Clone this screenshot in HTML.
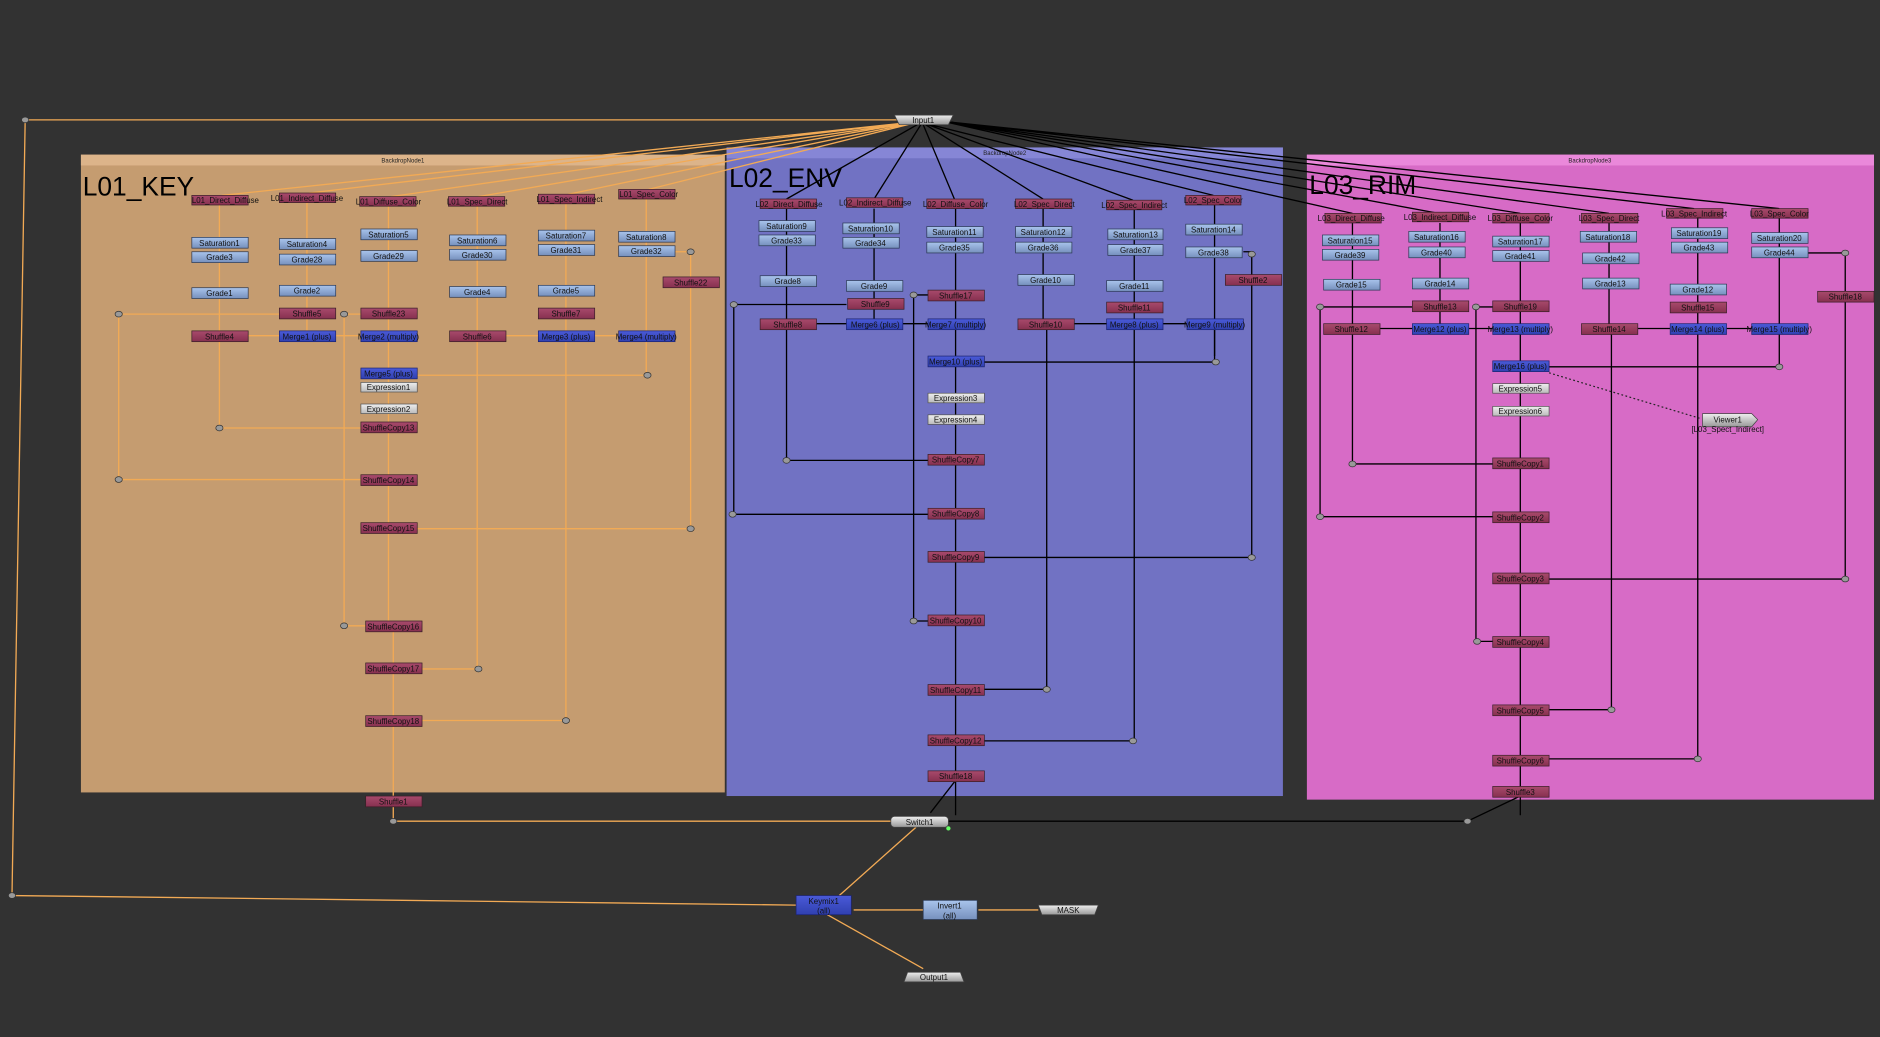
<!DOCTYPE html>
<html><head><meta charset="utf-8"><style>
html,body{margin:0;padding:0;background:#323232;overflow:hidden}
svg{display:block}
text{font-family:"Liberation Sans",sans-serif}
.n text{font-size:6.6px;fill:#111;text-anchor:middle}
.s rect{fill:url(#gs);stroke:#3a1f28;stroke-width:.6}
.g rect{fill:url(#gg);stroke:#2c3a55;stroke-width:.6}
.m rect{fill:url(#gm);stroke:#1c2470;stroke-width:.6}
.e rect{fill:url(#ge);stroke:#555;stroke-width:.6}
.o{stroke:#f2aa55;stroke-width:1.1;fill:none}
.k{stroke:#000;stroke-width:1.1;fill:none}
.d{fill:#999;stroke:#333;stroke-width:.6}
.big{font-size:22px;fill:#000}
.bk{font-size:5px;fill:#222;text-anchor:middle}
</style></head><body>
<svg width="1880" height="1037" viewBox="0 0 1568 865" preserveAspectRatio="none" xmlns="http://www.w3.org/2000/svg">
<defs>
<linearGradient id="gs" x1="0" y1="0" x2="0" y2="1"><stop offset="0" stop-color="#a84a6c"/><stop offset="1" stop-color="#86304f"/></linearGradient>
<linearGradient id="gg" x1="0" y1="0" x2="0" y2="1"><stop offset="0" stop-color="#a9c4ec"/><stop offset="1" stop-color="#7690bd"/></linearGradient>
<linearGradient id="gm" x1="0" y1="0" x2="0" y2="1"><stop offset="0" stop-color="#4a5ad8"/><stop offset="1" stop-color="#3040b0"/></linearGradient>
<linearGradient id="ge" x1="0" y1="0" x2="0" y2="1"><stop offset="0" stop-color="#eee"/><stop offset="1" stop-color="#bbb"/></linearGradient>
<linearGradient id="gi" x1="0" y1="0" x2="0" y2="1"><stop offset="0" stop-color="#eee"/><stop offset="1" stop-color="#999"/></linearGradient>
</defs>
<rect width="1568" height="865" fill="#323232"/>
<rect x="67.5" y="129" width="537" height="532" fill="#c59c70"/>
<rect x="67.5" y="129" width="537" height="9" fill="#dcb48a"/>
<text class="bk" x="336" y="135.5">BackdropNode1</text>
<rect x="606" y="123" width="464" height="541" fill="#7172c3"/>
<rect x="606" y="123" width="464" height="9" fill="#8686d6"/>
<text class="bk" x="838" y="129.5">BackdropNode2</text>
<rect x="1090" y="129" width="473" height="538" fill="#d76bc6"/>
<rect x="1090" y="129" width="473" height="9" fill="#ea88da"/>
<text class="bk" x="1326" y="135.5">BackdropNode3</text>
<text class="big" x="69" y="163">L01_KEY</text>
<text class="big" x="608" y="156">L02_ENV</text>
<text class="big" x="1092" y="162">L03_RIM</text>

<g class="o">
<path d="M748 100H21L10 747"/><path d="M10 747L664 755"/>
<path d="M760 102L185 163M760 102L258 161M762 102L326 164M762 102L399 164M764 102L474 162M765 102L541 158"/>
</g>
<g class="k">
<path d="M765 104L656 166M768 104L729 166M770 104L796 166M772 104L870 166M774 104L945 167M776 104L1012 163"/>
<path d="M790 102L1128 178M790 102L1200 178M791 102L1268 178M792 102L1342 178M793 102L1413 174M794 102L1484 174"/>
</g>

<g class="o">
<path d="M183 171V276M183 284V357M256 169V276M324 172V518M328 518V664M398 172V276M398 284V558M472 170V276M472 284V601M539 166V313M576 210V441M563 210H576M576 210V231"/>
<path d="M99 262V400M233 262H99M287 262V522M301 262H287M207 280H233M280 280H301M422 280H449M496 280H516"/>
<path d="M540 313H348M183 357H301M99 400H301M576 441H348M287 522H305M399 558H352M472 601H352M328 672V685M328 685H743"/>
</g>
<g class="k">
<path d="M656 174V266M656 274V384M729 174V266M797 174V297M797 305V680M870 174V266M873 274V575M946 175V266M946 274V618M1013 171V297M1044 212V465M1037 210H1044M1044 229V237"/>
<path d="M612 254V429M706 254H612M762 246V518M774 246H762M681 270H706M753 270H774M896 270H923M970 270H990M1014 302H821M1013 274V302"/>
<path d="M656 384H774M611 429H774M1044 465H821M762 518H774M873 575H821M945 618H821M797 651L776 678"/>
</g>
<g class="k">
<path d="M1128 186V270M1128 278V387M1201 186V270M1268 186V680M1342 186V270M1344 278V592M1416 182V270M1416 278V633M1484 182V306M1539 211V483M1508 211H1539M1539 243V251"/>
<path d="M1101 256V431M1178 256H1101M1231 256V535M1245 256H1231M1151 274H1178M1225 274H1245M1366 274H1393M1440 274H1461M1484 306H1292"/>
<path d="M1128 387H1245M1101 431H1245M1539 483H1292M1232 535H1245M1344 592H1292M1416 633H1292M1268 664L1224 685M1224 685H791"/>
</g>
<path d="M1292 311L1418 349" stroke="#222" stroke-width="1" stroke-dasharray="1.5,2" fill="none"/>
<g class="o"><path d="M764 690L700 747M690 763L770 808M770 759H712M866 759H816"/></g>

<g class="d">
<ellipse cx="21" cy="100" rx="3" ry="2.4"/><ellipse cx="10" cy="747" rx="3" ry="2.4"/>
<ellipse cx="99" cy="262" rx="3" ry="2.4"/><ellipse cx="287" cy="262" rx="3" ry="2.4"/><ellipse cx="576" cy="210" rx="3" ry="2.4"/><ellipse cx="540" cy="313" rx="3" ry="2.4"/><ellipse cx="183" cy="357" rx="3" ry="2.4"/><ellipse cx="99" cy="400" rx="3" ry="2.4"/><ellipse cx="576" cy="441" rx="3" ry="2.4"/><ellipse cx="287" cy="522" rx="3" ry="2.4"/><ellipse cx="399" cy="558" rx="3" ry="2.4"/><ellipse cx="472" cy="601" rx="3" ry="2.4"/><ellipse cx="328" cy="685" rx="3" ry="2.4"/>
<ellipse cx="612" cy="254" rx="3" ry="2.4"/><ellipse cx="762" cy="246" rx="3" ry="2.4"/><ellipse cx="1044" cy="212" rx="3" ry="2.4"/><ellipse cx="1014" cy="302" rx="3" ry="2.4"/><ellipse cx="656" cy="384" rx="3" ry="2.4"/><ellipse cx="611" cy="429" rx="3" ry="2.4"/><ellipse cx="1044" cy="465" rx="3" ry="2.4"/><ellipse cx="762" cy="518" rx="3" ry="2.4"/><ellipse cx="873" cy="575" rx="3" ry="2.4"/><ellipse cx="945" cy="618" rx="3" ry="2.4"/>
<ellipse cx="1101" cy="256" rx="3" ry="2.4"/><ellipse cx="1231" cy="256" rx="3" ry="2.4"/><ellipse cx="1539" cy="211" rx="3" ry="2.4"/><ellipse cx="1484" cy="306" rx="3" ry="2.4"/><ellipse cx="1128" cy="387" rx="3" ry="2.4"/><ellipse cx="1101" cy="431" rx="3" ry="2.4"/><ellipse cx="1539" cy="483" rx="3" ry="2.4"/><ellipse cx="1232" cy="535" rx="3" ry="2.4"/><ellipse cx="1344" cy="592" rx="3" ry="2.4"/><ellipse cx="1416" cy="633" rx="3" ry="2.4"/><ellipse cx="1224" cy="685" rx="3" ry="2.4"/>
</g>

<g class="n s">
<rect x="160" y="163" width="47" height="8"/><text x="188" y="169.5">L01_Direct_Diffuse</text>
<rect x="233" y="161" width="47" height="8"/><text x="256" y="167.5">L01_Indirect_Diffuse</text>
<rect x="300" y="164" width="47" height="8"/><text x="324" y="170.5">L01_Diffuse_Color</text>
<rect x="374" y="164" width="47" height="8"/><text x="398" y="170.5">L01_Spec_Direct</text>
<rect x="449" y="162" width="47" height="8"/><text x="475" y="168.5">L01_Spec_Indirect</text>
<rect x="516" y="158" width="47" height="8"/><text x="541" y="164.5">L01_Spec_Color</text>
<rect x="233" y="257" width="47" height="9"/><text x="256" y="264">Shuffle5</text>
<rect x="301" y="257" width="47" height="9"/><text x="324" y="264">Shuffle23</text>
<rect x="449" y="257" width="47" height="9"/><text x="472" y="264">Shuffle7</text>
<rect x="553" y="231" width="47" height="9"/><text x="576" y="238">Shuffle22</text>
<rect x="160" y="276" width="47" height="9"/><text x="183" y="283">Shuffle4</text>
<rect x="375" y="276" width="47" height="9"/><text x="398" y="283">Shuffle6</text>
<rect x="301" y="352" width="47" height="9"/><text x="324" y="359">ShuffleCopy13</text>
<rect x="301" y="396" width="47" height="9"/><text x="324" y="403">ShuffleCopy14</text>
<rect x="301" y="436" width="47" height="9"/><text x="324" y="443">ShuffleCopy15</text>
<rect x="305" y="518" width="47" height="9"/><text x="328" y="525">ShuffleCopy16</text>
<rect x="305" y="553" width="47" height="9"/><text x="328" y="560">ShuffleCopy17</text>
<rect x="305" y="597" width="47" height="9"/><text x="328" y="604">ShuffleCopy18</text>
<rect x="305" y="664" width="47" height="9"/><text x="328" y="671">Shuffle1</text>
</g>
<g class="n g">
<rect x="160" y="198" width="47" height="9"/><text x="183" y="205">Saturation1</text>
<rect x="233" y="199" width="47" height="9"/><text x="256" y="206">Saturation4</text>
<rect x="301" y="191" width="47" height="9"/><text x="324" y="198">Saturation5</text>
<rect x="375" y="196" width="47" height="9"/><text x="398" y="203">Saturation6</text>
<rect x="449" y="192" width="47" height="9"/><text x="472" y="199">Saturation7</text>
<rect x="516" y="193" width="47" height="9"/><text x="539" y="200">Saturation8</text>
<rect x="160" y="210" width="47" height="9"/><text x="183" y="217">Grade3</text>
<rect x="233" y="212" width="47" height="9"/><text x="256" y="219">Grade28</text>
<rect x="301" y="209" width="47" height="9"/><text x="324" y="216">Grade29</text>
<rect x="375" y="208" width="47" height="9"/><text x="398" y="215">Grade30</text>
<rect x="449" y="204" width="47" height="9"/><text x="472" y="211">Grade31</text>
<rect x="516" y="205" width="47" height="9"/><text x="539" y="212">Grade32</text>
<rect x="160" y="240" width="47" height="9"/><text x="183" y="247">Grade1</text>
<rect x="233" y="238" width="47" height="9"/><text x="256" y="245">Grade2</text>
<rect x="375" y="239" width="47" height="9"/><text x="398" y="246">Grade4</text>
<rect x="449" y="238" width="47" height="9"/><text x="472" y="245">Grade5</text>
</g>
<g class="n m">
<rect x="233" y="276" width="47" height="9"/><text x="256" y="283">Merge1 (plus)</text>
<rect x="301" y="276" width="47" height="9"/><text x="324" y="283">Merge2 (multiply)</text>
<rect x="449" y="276" width="47" height="9"/><text x="472" y="283">Merge3 (plus)</text>
<rect x="516" y="276" width="47" height="9"/><text x="539" y="283">Merge4 (multiply)</text>
<rect x="301" y="307" width="47" height="9"/><text x="324" y="314">Merge5 (plus)</text>
</g>
<g class="n e">
<rect x="301" y="319" width="47" height="8"/><text x="324" y="325.5">Expression1</text>
<rect x="301" y="337" width="47" height="8"/><text x="324" y="343.5">Expression2</text>
</g>

<g class="n s">
<rect x="634" y="166" width="47" height="8"/><text x="658" y="172.5">L02_Direct_Diffuse</text>
<rect x="706" y="165" width="47" height="8"/><text x="730" y="171.5">L02_Indirect_Diffuse</text>
<rect x="773" y="166" width="47" height="8"/><text x="797" y="172.5">L02_Diffuse_Color</text>
<rect x="847" y="166" width="47" height="8"/><text x="871" y="172.5">L02_Spec_Direct</text>
<rect x="923" y="167" width="46" height="8"/><text x="946" y="173.5">L02_Spec_Indirect</text>
<rect x="989" y="163" width="46" height="8"/><text x="1012" y="169.5">L02_Spec_Color</text>
<rect x="774" y="242" width="47" height="9"/><text x="797" y="249">Shuffle17</text>
<rect x="707" y="249" width="47" height="9"/><text x="730" y="256">Shuffle9</text>
<rect x="923" y="252" width="47" height="9"/><text x="946" y="259">Shuffle11</text>
<rect x="1022" y="229" width="47" height="9"/><text x="1045" y="236">Shuffle2</text>
<rect x="634" y="266" width="47" height="9"/><text x="657" y="273">Shuffle8</text>
<rect x="849" y="266" width="47" height="9"/><text x="872" y="273">Shuffle10</text>
<rect x="774" y="379" width="47" height="9"/><text x="797" y="386">ShuffleCopy7</text>
<rect x="774" y="424" width="47" height="9"/><text x="797" y="431">ShuffleCopy8</text>
<rect x="774" y="460" width="47" height="9"/><text x="797" y="467">ShuffleCopy9</text>
<rect x="774" y="513" width="47" height="9"/><text x="797" y="520">ShuffleCopy10</text>
<rect x="774" y="571" width="47" height="9"/><text x="797" y="578">ShuffleCopy11</text>
<rect x="774" y="613" width="47" height="9"/><text x="797" y="620">ShuffleCopy12</text>
<rect x="774" y="643" width="47" height="9"/><text x="797" y="650">Shuffle18</text>
</g>
<g class="n g">
<rect x="633" y="184" width="47" height="9"/><text x="656" y="191">Saturation9</text>
<rect x="703" y="186" width="47" height="9"/><text x="726" y="193">Saturation10</text>
<rect x="773" y="189" width="47" height="9"/><text x="796" y="196">Saturation11</text>
<rect x="847" y="189" width="47" height="9"/><text x="870" y="196">Saturation12</text>
<rect x="924" y="191" width="46" height="9"/><text x="947" y="198">Saturation13</text>
<rect x="989" y="187" width="47" height="9"/><text x="1012" y="194">Saturation14</text>
<rect x="633" y="196" width="47" height="9"/><text x="656" y="203">Grade33</text>
<rect x="703" y="198" width="47" height="9"/><text x="726" y="205">Grade34</text>
<rect x="773" y="202" width="47" height="9"/><text x="796" y="209">Grade35</text>
<rect x="847" y="202" width="47" height="9"/><text x="870" y="209">Grade36</text>
<rect x="924" y="204" width="46" height="9"/><text x="947" y="211">Grade37</text>
<rect x="989" y="206" width="47" height="9"/><text x="1012" y="213">Grade38</text>
<rect x="634" y="230" width="47" height="9"/><text x="657" y="237">Grade8</text>
<rect x="706" y="234" width="47" height="9"/><text x="729" y="241">Grade9</text>
<rect x="849" y="229" width="47" height="9"/><text x="872" y="236">Grade10</text>
<rect x="923" y="234" width="47" height="9"/><text x="946" y="241">Grade11</text>
</g>
<g class="n m">
<rect x="706" y="266" width="47" height="9"/><text x="730" y="273">Merge6 (plus)</text>
<rect x="774" y="266" width="47" height="9"/><text x="797" y="273">Merge7 (multiply)</text>
<rect x="923" y="266" width="47" height="9"/><text x="946" y="273">Merge8 (plus)</text>
<rect x="990" y="266" width="47" height="9"/><text x="1013" y="273">Merge9 (multiply)</text>
<rect x="774" y="297" width="47" height="9"/><text x="797" y="304">Merge10 (plus)</text>
</g>
<g class="n e">
<rect x="774" y="328" width="47" height="8"/><text x="797" y="334.5">Expression3</text>
<rect x="774" y="346" width="47" height="8"/><text x="797" y="352.5">Expression4</text>
</g>

<g class="n s">
<rect x="1105" y="178" width="47" height="8"/><text x="1127" y="184.5">L03_Direct_Diffuse</text>
<rect x="1178" y="177" width="47" height="8"/><text x="1201" y="183.5">L03_Indirect_Diffuse</text>
<rect x="1245" y="178" width="47" height="8"/><text x="1268" y="184.5">L03_Diffuse_Color</text>
<rect x="1319" y="178" width="47" height="8"/><text x="1342" y="184.5">L03_Spec_Direct</text>
<rect x="1390" y="174" width="47" height="8"/><text x="1413" y="180.5">L03_Spec_Indirect</text>
<rect x="1461" y="174" width="47" height="8"/><text x="1484" y="180.5">L03_Spec_Color</text>
<rect x="1245" y="251" width="47" height="9"/><text x="1268" y="258">Shuffle19</text>
<rect x="1178" y="251" width="47" height="9"/><text x="1201" y="258">Shuffle13</text>
<rect x="1393" y="252" width="47" height="9"/><text x="1416" y="259">Shuffle15</text>
<rect x="1516" y="243" width="47" height="9"/><text x="1539" y="250">Shuffle18</text>
<rect x="1104" y="270" width="47" height="9"/><text x="1127" y="277">Shuffle12</text>
<rect x="1319" y="270" width="47" height="9"/><text x="1342" y="277">Shuffle14</text>
<rect x="1245" y="382" width="47" height="9"/><text x="1268" y="389">ShuffleCopy1</text>
<rect x="1245" y="427" width="47" height="9"/><text x="1268" y="434">ShuffleCopy2</text>
<rect x="1245" y="478" width="47" height="9"/><text x="1268" y="485">ShuffleCopy3</text>
<rect x="1245" y="531" width="47" height="9"/><text x="1268" y="538">ShuffleCopy4</text>
<rect x="1245" y="588" width="47" height="9"/><text x="1268" y="595">ShuffleCopy5</text>
<rect x="1245" y="630" width="47" height="9"/><text x="1268" y="637">ShuffleCopy6</text>
<rect x="1245" y="656" width="47" height="9"/><text x="1268" y="663">Shuffle3</text>
</g>
<g class="n g">
<rect x="1103" y="196" width="47" height="9"/><text x="1126" y="203">Saturation15</text>
<rect x="1175" y="193" width="47" height="9"/><text x="1198" y="200">Saturation16</text>
<rect x="1245" y="197" width="47" height="9"/><text x="1268" y="204">Saturation17</text>
<rect x="1318" y="193" width="47" height="9"/><text x="1341" y="200">Saturation18</text>
<rect x="1394" y="190" width="47" height="9"/><text x="1417" y="197">Saturation19</text>
<rect x="1461" y="194" width="47" height="9"/><text x="1484" y="201">Saturation20</text>
<rect x="1103" y="208" width="47" height="9"/><text x="1126" y="215">Grade39</text>
<rect x="1175" y="206" width="47" height="9"/><text x="1198" y="213">Grade40</text>
<rect x="1245" y="209" width="47" height="9"/><text x="1268" y="216">Grade41</text>
<rect x="1320" y="211" width="47" height="9"/><text x="1343" y="218">Grade42</text>
<rect x="1394" y="202" width="47" height="9"/><text x="1417" y="209">Grade43</text>
<rect x="1461" y="206" width="47" height="9"/><text x="1484" y="213">Grade44</text>
<rect x="1104" y="233" width="47" height="9"/><text x="1127" y="240">Grade15</text>
<rect x="1178" y="232" width="47" height="9"/><text x="1201" y="239">Grade14</text>
<rect x="1320" y="232" width="47" height="9"/><text x="1343" y="239">Grade13</text>
<rect x="1393" y="237" width="47" height="9"/><text x="1416" y="244">Grade12</text>
</g>
<g class="n m">
<rect x="1178" y="270" width="47" height="9"/><text x="1201" y="277">Merge12 (plus)</text>
<rect x="1245" y="270" width="47" height="9"/><text x="1268" y="277">Merge13 (multiply)</text>
<rect x="1393" y="270" width="47" height="9"/><text x="1416" y="277">Merge14 (plus)</text>
<rect x="1461" y="270" width="47" height="9"/><text x="1484" y="277">Merge15 (multiply)</text>
<rect x="1245" y="301" width="47" height="9"/><text x="1268" y="308">Merge16 (plus)</text>
</g>
<g class="n e">
<rect x="1245" y="320" width="47" height="8"/><text x="1268" y="326.5">Expression5</text>
<rect x="1245" y="339" width="47" height="8"/><text x="1268" y="345.5">Expression6</text>
</g>
<g class="n">
<path d="M1420 345H1461L1466 350L1461 356H1420Z" fill="url(#gi)" stroke="#444" stroke-width=".6"/>
<text x="1441" y="352.5">Viewer1</text>
<text x="1441" y="360.5">[L03_Spect_Indirect]</text>
</g>

<g class="n">
<path d="M746 96H795L791 104H750Z" fill="url(#gi)" stroke="#444" stroke-width=".6"/><text x="770" y="102.5">Input1</text>
<rect x="743" y="681" width="48" height="9" rx="3" fill="url(#gi)" stroke="#444" stroke-width=".6"/><text x="767" y="688">Switch1</text>
<circle cx="791" cy="691" r="1.8" fill="#6f6"/>
<rect x="664" y="747" width="46" height="16" fill="url(#gm)" stroke="#1c2470" stroke-width=".6"/><text x="687" y="754">Keymix1</text><text x="687" y="762">(all)</text>
<rect x="770" y="751" width="45" height="16" fill="url(#gg)" stroke="#2c3a55" stroke-width=".6"/><text x="792" y="758">Invert1</text><text x="792" y="766">(all)</text>
<path d="M866 755H916L913 763H869Z" fill="url(#gi)" stroke="#444" stroke-width=".6"/><text x="891" y="761.5">MASK</text>
<path d="M757 811H801L804 819H754Z" fill="url(#gi)" stroke="#444" stroke-width=".6"/><text x="779" y="817.5">Output1</text>
</g>
</svg>
</body></html>
